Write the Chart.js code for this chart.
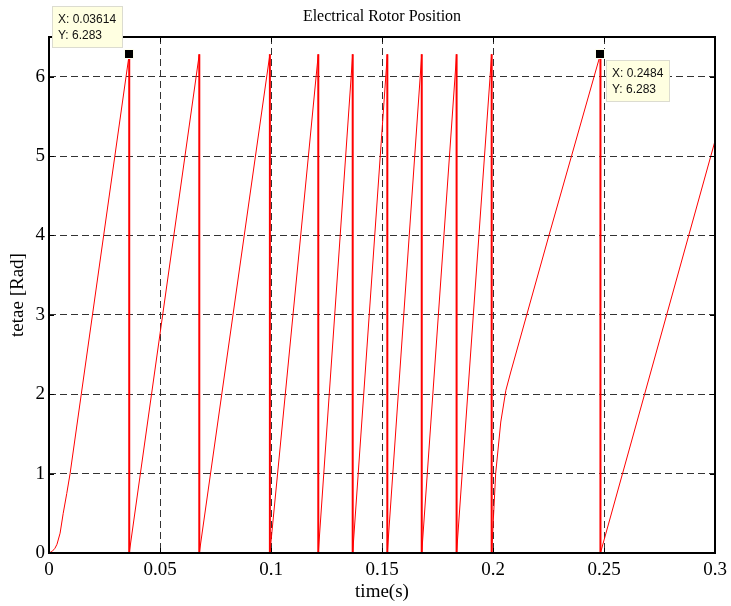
<!DOCTYPE html>
<html>
<head>
<meta charset="utf-8">
<title>Electrical Rotor Position</title>
<script src="https://cdn.jsdelivr.net/npm/chart.js@4/dist/chart.umd.min.js"></script>
<style>
  html, body { margin: 0; padding: 0; background: #ffffff; }
  #wrap { width: 731px; height: 606px; position: relative; }
</style>
</head>
<body>
<div id="wrap"><canvas id="rotor"></canvas></div>
<script>
// Electrical rotor angle (rad) against simulation time (s)
const timeS = [
  0, 0.0014, 0.0027, 0.0036, 0.0050, 0.0064, 0.0080, 0.0095, 0.0347, 0.03614,
  0.03614, 0.0677,
  0.0677, 0.0995,
  0.0995, 0.1213,
  0.1213, 0.1368,
  0.1368, 0.1524,
  0.1524, 0.1679,
  0.1679, 0.1836,
  0.1836, 0.1994,
  0.1994, 0.2012, 0.2035, 0.2058, 0.2080, 0.2152, 0.2252, 0.2484,
  0.2484, 0.3
];
const thetaRad = [
  0, 0.02, 0.06, 0.11, 0.25, 0.50, 0.75, 1.00, 6.00, 6.283,
  0, 6.283,
  0, 6.283,
  0, 6.283,
  0, 6.283,
  0, 6.283,
  0, 6.283,
  0, 6.283,
  0, 6.283,
  0, 1.00, 1.65, 2.05, 2.28, 3.00, 4.00, 6.283,
  0, 5.19
];

const xTicks = [0, 0.05, 0.1, 0.15, 0.2, 0.25, 0.3];
const xTickLabels = ['0', '0.05', '0.1', '0.15', '0.2', '0.25', '0.3'];
const yTicks = [0, 1, 2, 3, 4, 5, 6];
const yTickLabels = ['0', '1', '2', '3', '4', '5', '6'];

// data tips
const tipX = [0.03614, 0.2484];
const tipY = [6.283, 6.283];

const SERIF = '"Liberation Serif", "Times New Roman", Times, serif';
const SANS = '"Liberation Sans", Arial, Helvetica, sans-serif';

const points = timeS.map((t, i) => ({ x: t, y: thetaRad[i] }));

const framePlugin = {
  id: 'frame',
  beforeDraw(chart) {
    const { ctx, chartArea } = chart;
    ctx.save();
    ctx.fillStyle = '#000';
    ctx.font = '16px ' + SERIF;
    ctx.textAlign = 'center';
    ctx.textBaseline = 'middle';
    ctx.fillText('Electrical Rotor Position', (chartArea.left + chartArea.right) / 2, 17);
    ctx.restore();
  },
  afterDatasetsDraw(chart) {
    const { ctx, chartArea: a, scales } = chart;
    ctx.save();
    // inward tick marks on all four sides
    ctx.strokeStyle = '#000';
    ctx.lineWidth = 1;
    ctx.beginPath();
    xTicks.forEach(v => {
      const px = Math.round(scales.x.getPixelForValue(v)) + 0.5;
      ctx.moveTo(px, a.bottom); ctx.lineTo(px, a.bottom - 5);
      ctx.moveTo(px, a.top); ctx.lineTo(px, a.top + 5);
    });
    yTicks.forEach(v => {
      const py = Math.round(scales.y.getPixelForValue(v)) + 0.5;
      ctx.moveTo(a.left, py); ctx.lineTo(a.left + 5, py);
      ctx.moveTo(a.right, py); ctx.lineTo(a.right - 5, py);
    });
    ctx.stroke();
    // axes box
    ctx.lineWidth = 2;
    ctx.strokeRect(a.left, a.top, a.right - a.left, a.bottom - a.top);

    // data tips: marker + label box
    const placement = [
      { dx: -6, dy: -6, corner: 'bottomRight' },
      { dx: 6, dy: 6, corner: 'topLeft' }
    ];
    ctx.font = '12px ' + SANS;
    tipX.forEach((tx, i) => {
      const px = scales.x.getPixelForValue(tx);
      const py = scales.y.getPixelForValue(tipY[i]);
      // marker
      ctx.fillStyle = '#fffff0';
      ctx.fillRect(Math.round(px) - 5, Math.round(py) - 5, 10, 10);
      ctx.fillStyle = '#000';
      ctx.fillRect(Math.round(px) - 4, Math.round(py) - 4, 8, 8);
      // label
      const lines = ['X: ' + tx, 'Y: ' + tipY[i]];
      const w = Math.ceil(Math.max(...lines.map(s => ctx.measureText(s).width))) + 12;
      const h = 42;
      const p = placement[i];
      let bx, by;
      if (p.corner === 'bottomRight') { bx = Math.round(px) + p.dx - w; by = Math.round(py) + p.dy - h; }
      else { bx = Math.round(px) + p.dx; by = Math.round(py) + p.dy; }
      ctx.fillStyle = '#ffffe1';
      ctx.fillRect(bx, by, w, h);
      ctx.strokeStyle = '#dcdcd0';
      ctx.lineWidth = 1;
      ctx.strokeRect(bx + 0.5, by + 0.5, w - 1, h - 1);
      ctx.fillStyle = '#111';
      ctx.textAlign = 'left';
      ctx.textBaseline = 'alphabetic';
      ctx.fillText(lines[0], bx + 6, by + 17);
      ctx.fillText(lines[1], bx + 6, by + 33);
    });
    ctx.restore();
  }
};

new Chart(document.getElementById('rotor'), {
  type: 'line',
  data: {
    datasets: [{
      data: points,
      borderColor: '#ff0000',
      borderWidth: 1,
      pointRadius: 0,
      tension: 0,
      fill: false,
      segment: {
        borderWidth: ctx => (ctx.p0.parsed.x === ctx.p1.parsed.x ? 2 : 1)
      }
    }]
  },
  options: {
    responsive: true,
    maintainAspectRatio: false,
    animation: false,
    devicePixelRatio: 1,
    layout: { padding: { top: 37, right: 16, left: 0, bottom: 0 } },
    plugins: {
      legend: { display: false },
      tooltip: { enabled: false },
      title: { display: false }
    },
    scales: {
      x: {
        type: 'linear',
        min: 0,
        max: 0.3,
        afterBuildTicks: s => { s.ticks = xTicks.map(v => ({ value: v })); },
        afterFit: s => { s.height = 53; s.paddingLeft = 0; s.paddingRight = 0; },
        ticks: {
          padding: 6,
          maxRotation: 0,
          autoSkip: false,
          color: '#000',
          font: { family: SERIF, size: 19 },
          callback: (v, i) => xTickLabels[i]
        },
        grid: { color: '#333333', lineWidth: 1, drawTicks: false },
        border: { display: false, dash: [7, 4] },
        title: {
          display: true,
          text: 'time(s)',
          color: '#000',
          font: { family: SERIF, size: 19 },
          padding: { top: 0, bottom: 3 }
        }
      },
      y: {
        type: 'linear',
        min: 0,
        max: 6.5,
        afterBuildTicks: s => { s.ticks = yTicks.map(v => ({ value: v })); },
        afterFit: s => { s.width = 49; s.paddingTop = 0; s.paddingBottom = 0; },
        ticks: {
          padding: 4,
          autoSkip: false,
          color: '#000',
          font: { family: SERIF, size: 19 },
          callback: (v, i) => yTickLabels[i]
        },
        grid: { color: '#333333', lineWidth: 1, drawTicks: false },
        border: { display: false, dash: [7, 4] },
        title: {
          display: true,
          text: 'tetae [Rad]',
          color: '#000',
          font: { family: SERIF, size: 19 },
          padding: { top: 7, bottom: 0 }
        }
      }
    }
  },
  plugins: [framePlugin]
});
</script>
</body>
</html>
